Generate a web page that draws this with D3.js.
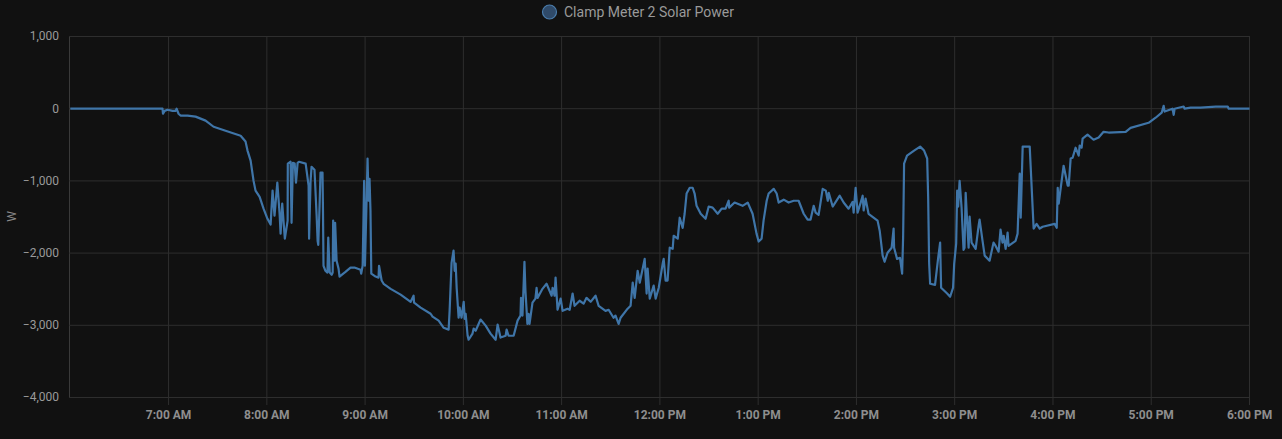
<!DOCTYPE html>
<html>
<head>
<meta charset="utf-8">
<script src="https://cdn.jsdelivr.net/npm/d3@7"></script>
<style>
  html, body { margin: 0; padding: 0; background: #111111; overflow: hidden; }
  text { font-family: Roboto, sans-serif; }
</style>
</head>
<body>
<div id="chart"></div>
<script>
const seriesName = "Clamp Meter 2 Solar Power";
const yLabel = "W";
const yTicks = [1000, 0, -1000, -2000, -3000, -4000];
const xTickHours = [7, 8, 9, 10, 11, 12, 13, 14, 15, 16, 17, 18];

// minutes after midnight
const minutes = [
  360, 416.3, 416.6, 417.6, 419.4, 422.4, 424.3, 424.9, 426.1, 427.3, 431.6, 436.5, 442.6, 447.5, 454.8, 464, 467, 468.2, 470.1, 471.9,
  473.1, 475.6, 478, 480.4, 482.3, 483.5, 484.7, 486.4, 487.8, 488.4, 489.4, 491, 492.7, 492.8, 494.5, 495.1, 495.9, 497, 497.8, 498.8,
  499.6, 503.7, 504.3, 505.5, 505.8, 506.7, 507.3, 509.1, 510.4, 511, 511.4, 512.2, 512.8, 514, 514.3, 514.6, 515.8, 517, 517.5, 518.4,
  519.6, 520.2, 520.5, 521.4, 521.7, 522.6, 523.8, 524.4, 528, 531.1, 533.5, 537.2, 537.6, 538.5, 539.1, 539.4, 539.9, 540.9, 541.5, 542.1,
  542.7, 543.3, 543.8, 546.4, 548.2, 548.5, 550.1, 551.3, 555.6, 561.7, 567.8, 569.6, 569.9, 573.9, 580, 581.2, 584.9, 588, 591, 591.6,
  592.8, 594, 594.7, 595.3, 595.9, 597.1, 597.7, 598.9, 600.2, 600.8, 601.4, 602.6, 603.2, 605.6, 606.3, 607.5, 610.5, 613.6, 616.6, 619.7,
  620.9, 622.7, 625.8, 626.4, 627.6, 630.7, 633.1, 634.9, 635.2, 636.1, 637.3, 637.9, 639.1, 639.8, 640.4, 642.2, 644, 644.7, 645.3, 648.3,
  650.8, 653.9, 654.5, 655.7, 656.3, 657.5, 659.4, 660.6, 663.6, 664.9, 666.7, 667.9, 671, 673.4, 675.2, 677.7, 680.7, 682.6, 686.8, 688.7,
  691.7, 692.9, 694.8, 696, 700.3, 702.1, 703.4, 704.6, 706.4, 707.7, 710.7, 711.9, 712.5, 713.8, 716.2, 717.4, 719.3, 721.7, 722.3, 723.5,
  724.7, 726, 727.8, 728.4, 730.9, 732.1, 733.9, 735.1, 736.3, 738.2, 740, 741.2, 742.4, 744.9, 747.9, 749.8, 752.2, 755.3, 757.7, 760.1,
  762, 762.3, 765.6, 770.5, 773.6, 776.6, 779, 780.3, 782.1, 783.3, 785.2, 786.4, 789.5, 791.3, 792.5, 795.6, 798.6, 801.7, 804.7, 807.8,
  810.2, 812, 813.9, 815.1, 816.9, 819.4, 821.3, 822.5, 823.1, 825.5, 829.8, 832.2, 835.2, 837.7, 838.3, 839.5, 840.7, 842.6, 843.8, 844.4,
  845.6, 847.4, 852.9, 854.2, 856, 857.2, 859, 861.5, 862.7, 863, 864.8, 866.6, 867.9, 868.5, 869.1, 870.9, 875.2, 878.9, 881.3, 883.2,
  883.8, 884.4, 885, 888, 889.9, 891.1, 891.7, 895.4, 897.2, 899, 899.7, 900.9, 901.5, 902.1, 903, 904.2, 905.4, 906, 906.7, 907.9,
  908.5, 909.1, 910.3, 912.8, 914.6, 915.2, 917, 918.3, 921.3, 923.7, 925, 926.8, 928, 929.2, 929.9, 931.1, 932.3, 932.9, 937.2, 938.4,
  939.7, 940.3, 941.5, 945.8, 948.2, 950, 951.9, 953.7, 961, 962.3, 962.9, 963.5, 966.5, 969, 969.6, 970.8, 972, 973.8, 975.7, 976.3,
  977.5, 978.1, 981.1, 984.8, 987.9, 990.9, 994, 1004.4, 1007.4, 1018.4, 1022.7, 1026.4, 1027.6, 1028.2, 1033, 1033.7, 1034.3, 1039.8, 1040.4, 1044.1,
  1050.2, 1059.4, 1066.7, 1067.3, 1080
];

const watts = [
  0, 0, -70, -30, -15, -30, -30, 0, -70, -95, -95, -110, -165, -250, -305, -375, -455, -580, -720, -1000,
  -1135, -1220, -1385, -1525, -1605, -1135, -1480, -1025, -1455, -1730, -1315, -1800, -1550, -760, -735, -1580, -750, -760, -1025, -750,
  -735, -760, -860, -1065, -1800, -1000, -805, -845, -1480, -1830, -1885, -1345, -885, -885, -1410, -2175, -2245, -2270, -1785, -2270,
  -2300, -2270, -1550, -2105, -1580, -2105, -2215, -2325, -2260, -2200, -2200, -2230, -2285, -2175, -1410, -1000, -2175, -1275, -690, -1275,
  -970, -1410, -2285, -2325, -2340, -2175, -2380, -2425, -2495, -2575, -2675, -2590, -2685, -2755, -2840, -2880, -2935, -3035, -3060, -2800,
  -2135, -1965, -2245, -2145, -2480, -2895, -2755, -2895, -2675, -2910, -2840, -3145, -3200, -3115, -3045, -3075, -2920, -3005, -3115, -3200,
  -2990, -3170, -3145, -3060, -3145, -3145, -2935, -2865, -2620, -2865, -2120, -2520, -2980, -2840, -2980, -2685, -2630, -2480, -2620, -2495,
  -2425, -2590, -2480, -2590, -2340, -2785, -2630, -2800, -2770, -2785, -2560, -2730, -2660, -2700, -2620, -2675, -2590, -2730, -2800, -2785,
  -2895, -2865, -2980, -2895, -2770, -2730, -2410, -2620, -2245, -2410, -2080, -2560, -2215, -2630, -2450, -2630, -2480, -2145, -2080, -2380,
  -2380, -1925, -1940, -1760, -1800, -1510, -1650, -1455, -1175, -1095, -1095, -1175, -1345, -1455, -1525, -1355, -1370, -1455, -1385, -1385,
  -1275, -1370, -1300, -1345, -1300, -1455, -1730, -1840, -1800, -1550, -1275, -1175, -1110, -1175, -1300, -1260, -1300, -1275, -1275, -1455,
  -1535, -1535, -1345, -1440, -1470, -1110, -1135, -1275, -1165, -1355, -1205, -1300, -1385, -1290, -1440, -1095, -1440, -1300, -1205, -1410,
  -1245, -1455, -1550, -1690, -2035, -2120, -1995, -1925, -1660, -1925, -2080, -2065, -2285, -1785, -760, -650, -580, -525, -580, -690,
  -1235, -2145, -2425, -2440, -2065, -1855, -2480, -2560, -2605, -2480, -2145, -1870, -1135, -1355, -1000, -1370, -1955, -1925, -1165, -1690,
  -1925, -1495, -1855, -1940, -1620, -1535, -1830, -2035, -2105, -1855, -1900, -1980, -1675, -1855, -1760, -1940, -1715, -1900, -1830, -1730,
  -900, -1510, -525, -525, -1660, -1595, -1660, -1635, -1595, -1650, -1095, -1315, -790, -1065, -1065, -690, -680, -540, -650, -510,
  -540, -415, -360, -430, -400, -320, -330, -320, -265, -195, -125, -55, 40, -40, 0, -85, 0, 30, 0, 15,
  15, 30, 30, 0, 0
];

const width = 1282, height = 439;
const margin = {top: 36, right: 33, bottom: 42, left: 69};
const innerW = width - margin.left - margin.right;
const innerH = height - margin.top - margin.bottom;

const toDate = m => new Date(2024, 0, 1, 0, 0, m * 60);

const svg = d3.select("#chart").append("svg")
  .attr("width", width)
  .attr("height", height)
  .style("display", "block");

const xScale = d3.scaleTime()
  .domain([toDate(360), toDate(1080)])
  .range([margin.left + 0.8, width - margin.right]);

const yScale = d3.scaleLinear()
  .domain([-4000, 1000])
  .range([height - margin.bottom, margin.top]);

// x axis with grid lines running up the plot
const xAxis = svg.append("g")
  .attr("transform", `translate(0,${height - margin.bottom})`)
  .call(d3.axisBottom(xScale)
    .tickValues(xTickHours.map(h => toDate(h * 60)))
    .tickFormat(d3.timeFormat("%-I:%M %p"))
    .tickSize(0)
    .tickPadding(13));
xAxis.selectAll(".tick line")
  .attr("y1", 8)
  .attr("y2", -innerH)
  .attr("stroke", "#2e2e2e");
xAxis.selectAll(".tick text")
  .attr("fill", "#8e8e8e")
  .attr("font-size", 12)
  .attr("font-weight", 700);
xAxis.select(".domain").attr("stroke", "#3a3a3a");

const yAxis = svg.append("g")
  .attr("transform", `translate(${margin.left},0)`)
  .call(d3.axisLeft(yScale)
    .tickValues(yTicks)
    .tickFormat(d3.format(","))
    .tickSize(0)
    .tickPadding(10));
yAxis.selectAll(".tick line")
  .attr("x2", innerW)
  .attr("stroke", "#2e2e2e");
yAxis.selectAll(".tick text")
  .attr("fill", "#9a9a9a")
  .attr("font-size", 12);
yAxis.select(".domain").attr("stroke", "#3a3a3a");

svg.append("text")
  .attr("transform", `translate(16,${margin.top + innerH / 2}) rotate(-90)`)
  .attr("text-anchor", "middle")
  .attr("fill", "#8a8a8a")
  .attr("font-size", 12)
  .text(yLabel);

// the series
const line = d3.line()
  .x(d => xScale(toDate(d[0])) + 0.5)
  .y(d => yScale(d[1]) + 0.5);

svg.append("path")
  .datum(d3.zip(minutes, watts))
  .attr("fill", "none")
  .attr("stroke", "#3f75a8")
  .attr("stroke-width", 2.2)
  .attr("stroke-linejoin", "round")
  .attr("d", line);

// legend
svg.append("circle")
  .attr("cx", 549.5)
  .attr("cy", 12)
  .attr("r", 7)
  .attr("fill", "#2f4a69")
  .attr("stroke", "#4a7cab")
  .attr("stroke-width", 1.2);

svg.append("text")
  .attr("x", 564)
  .attr("y", 17)
  .attr("fill", "#9a9a9a")
  .attr("font-size", 14)
  .text(seriesName);
</script>
</body>
</html>
